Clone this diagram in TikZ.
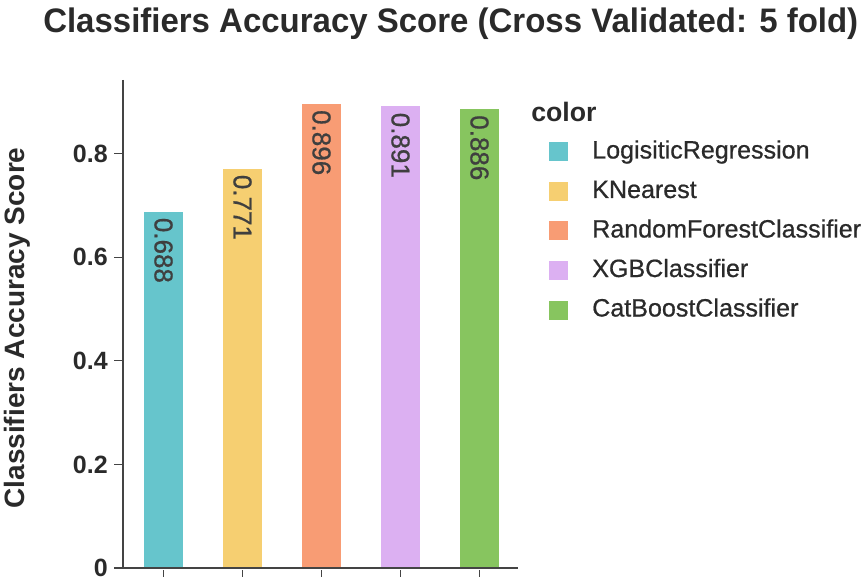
\documentclass[tikz,border=0pt]{standalone}
\usepackage{fontspec}
\setmainfont{Liberation Sans}
\newfontfamily\titlefont[FakeStretch=0.97]{Liberation Sans}
\newfontfamily\medfont[FakeBold=0.7]{Liberation Sans}
\usetikzlibrary{positioning}

\definecolor{logreg}{HTML}{66C5CC}
\definecolor{knear}{HTML}{F6CF71}
\definecolor{rforest}{HTML}{F89C74}
\definecolor{xgb}{HTML}{DCB0F2}
\definecolor{catb}{HTML}{87C55F}
\definecolor{axisgray}{HTML}{444444}
\definecolor{inkgray}{HTML}{2A2A2A}

\tikzset{
  axisline/.style={draw=axisgray, line width=0.9pt},
  barlabel/.style={rotate=-90, anchor=west, inner sep=0pt, text=inkgray!90, font=\medfont\fontsize{19.5}{20}\selectfont},
  ticklabel/.style={anchor=east, inner sep=0pt, text=inkgray, font=\bfseries\fontsize{18.75}{20}\selectfont},
  swatch/.style={rectangle, inner sep=0pt, minimum size=14.25pt},
  legendentry/.style={anchor=base west, inner sep=0pt, text=inkgray, font=\medfont\fontsize{18.8}{20}\selectfont}
}

\begin{document}
\begin{tikzpicture}[x=0.75pt, y=-0.75pt]
        \useasboundingbox (0,0) rectangle (868,581);

        % title and axis title
        \node[anchor=base west, inner sep=0pt, text=inkgray, font=\titlefont\bfseries\fontsize{25.5}{26}\selectfont] (title) at (43,33) {Classifiers Accuracy Score (Cross Validated: 5 fold)};
        \node[rotate=90, anchor=base, inner sep=0pt, text=inkgray, font=\bfseries\fontsize{21}{22}\selectfont] (ylab) at (25,328) {Classifiers Accuracy Score};

        % bars: y = 568 - 518*score
        \fill[logreg] (144,568) rectangle (183,211.6);
        \fill[knear] (223,568) rectangle (262,168.6);
        \fill[rforest] (302,568) rectangle (341,103.9);
        \fill[xgb] (381,568) rectangle (420,106.5);
        \fill[catb] (460,568) rectangle (499,109.0);

        \node[barlabel] (v1) at (163.5,217.6) {0.688};
        \node[barlabel] (v2) at (242.5,174.6) {0.771};
        \node[barlabel] (v3) at (321.5,109.9) {0.896};
        \node[barlabel] (v4) at (400.5,112.5) {0.891};
        \node[barlabel] (v5) at (479.5,115.0) {0.886};

        % axes
        \draw[axisline] (123,80) -- (123,568) -- (518,568);
        \draw[axisline] (114,568) -- (123,568);
        \draw[axisline] (114,464.4) -- (123,464.4);
        \draw[axisline] (114,360.8) -- (123,360.8);
        \draw[axisline] (114,257.2) -- (123,257.2);
        \draw[axisline] (114,153.6) -- (123,153.6);
        \draw[axisline] (163.5,570) -- (163.5,577);
        \draw[axisline] (242.5,570) -- (242.5,577);
        \draw[axisline] (321.5,570) -- (321.5,577);
        \draw[axisline] (400.5,570) -- (400.5,577);
        \draw[axisline] (479.5,570) -- (479.5,577);

        \node[ticklabel] (t0) at (108,568) {0};
        \node[ticklabel] (t2) at (108,464.4) {0.2};
        \node[ticklabel] (t4) at (108,360.8) {0.4};
        \node[ticklabel] (t6) at (108,257.2) {0.6};
        \node[ticklabel] (t8) at (108,153.6) {0.8};

        % legend
        \node[anchor=base west, inner sep=0pt, text=inkgray, font=\bfseries\fontsize{20}{22}\selectfont] (legtitle) at (531,122) {color};
        \node[swatch, fill=logreg] (s1) at (558.5,152) {};
        \node[swatch, fill=knear] (s2) at (558.5,191.5) {};
        \node[swatch, fill=rforest] (s3) at (558.5,231) {};
        \node[swatch, fill=xgb] (s4) at (558.5,270.5) {};
        \node[swatch, fill=catb] (s5) at (558.5,310) {};
        \node[legendentry] (e1) at (592,158.5) {LogisiticRegression};
        \node[legendentry] (e2) at (592,198) {KNearest};
        \node[legendentry] (e3) at (592,237.5) {RandomForestClassifier};
        \node[legendentry] (e4) at (592,277) {XGBClassifier};
        \node[legendentry] (e5) at (592,316.5) {CatBoostClassifier};
      \end{tikzpicture}
\end{document}
